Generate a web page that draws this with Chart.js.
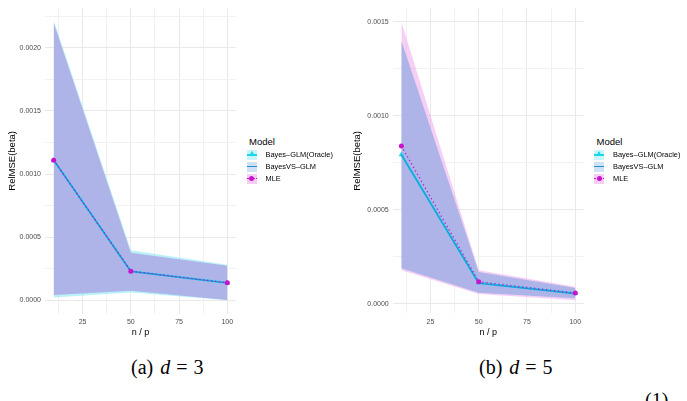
<!DOCTYPE html>
<html>
<head>
<meta charset="utf-8">
<script src="https://cdn.jsdelivr.net/npm/chart.js@4.4.0/dist/chart.umd.min.js"></script>
<style>
    body { margin: 0; width: 687px; height: 401px; background: #fff; position: relative; overflow: hidden; font-family: "Liberation Sans", Arial, sans-serif; }
    .panel { position: absolute; top: 0; height: 345px; }
    .leyenda { position: absolute; color: #000; }
    .leyenda .titulo { position: absolute; font-size: 9.5px; line-height: 11px; white-space: nowrap; }
    .leyenda .fila { position: absolute; height: 11.7px; width: 120px; }
    .leyenda .clave { position: absolute; top: 1px; width: 10px; height: 10px; }
    .leyenda .texto { position: absolute; font-size: 7.4px; line-height: 11.7px; white-space: nowrap; }
    .caption { position: absolute; font-family: "Liberation Serif", "DejaVu Serif", serif; font-size: 20px; line-height: 22px; white-space: nowrap; color: #000; }
    .caption i { margin-left: 7px; margin-right: 6px; }
    .caption .igual { margin-right: 6px; }
</style>
</head>
<body>
<div class="panel" style="left:0;width:240px"><canvas id="graficoD3" width="240" height="345"></canvas></div>
<div class="panel" style="left:345px;width:243px"><canvas id="graficoD5" width="243" height="345"></canvas></div>
<div class="leyenda" id="leyendaD3"></div>
<div class="leyenda" id="leyendaD5"></div>
<div class="caption" style="left:131px;top:356px">(a)<i>d</i><span class="igual">=</span>3</div>
<div class="caption" style="left:479px;top:356px">(b)<i>d</i><span class="igual">=</span>5</div>
<div class="caption" style="left:645px;top:389px">(1)</div>
<script>
// n / p
const nSobreP = [10, 50, 100];
const modelos = ["Bayes–GLM(Oracle)", "BayesVS–GLM", "MLE"];

// d = 3
const oracleD3 = [0.00111, 0.000229, 0.000137];
const bayesVsD3 = [0.00111, 0.000228, 0.000136];
const mleD3 = [0.00111, 0.000230, 0.000138];
const oracleAltoD3 = [0.00222, 0.000395, 0.000280];
const oracleBajoD3 = [0.00002, 0.000060, 0.000000];
const bayesVsAltoD3 = [0.00220, 0.000375, 0.000272];
const bayesVsBajoD3 = [0.00004, 0.000074, 0.000002];
const mleAltoD3 = [0.00219, 0.000370, 0.000270];
const mleBajoD3 = [0.00004, 0.000076, 0.000004];

// d = 5
const oracleD5 = [0.000794, 0.000112, 0.000056];
const bayesVsD5 = [0.000794, 0.000110, 0.000055];
const mleD5 = [0.000840, 0.000118, 0.000058];
const oracleAltoD5 = [0.00139, 0.000168, 0.000084];
const oracleBajoD5 = [0.000192, 0.000061, 0.000031];
const bayesVsAltoD5 = [0.00140, 0.000170, 0.000085];
const bayesVsBajoD5 = [0.000190, 0.000060, 0.000030];
const mleAltoD5 = [0.00150, 0.000180, 0.000092];
const mleBajoD5 = [0.000180, 0.000053, 0.000020];

const xTicks = [12.5, 25, 37.5, 50, 62.5, 75, 87.5, 100];
const xTickLabels = ["", "25", "", "50", "", "75", "", "100"];
const yTicksD3 = [0, 0.00025, 0.0005, 0.00075, 0.001, 0.00125, 0.0015, 0.00175, 0.002, 0.00225];
const yTickLabelsD3 = ["0.0000", "", "0.0005", "", "0.0010", "", "0.0015", "", "0.0020", ""];
const yTicksD5 = [0, 0.00025, 0.0005, 0.00075, 0.001, 0.00125, 0.0015];
const yTickLabelsD5 = ["0.0000", "", "0.0005", "", "0.0010", "", "0.0015"];

const colorOracle = "#1ed6ea";
const colorBayesVs = "#238fd6";
const colorMle = "#cc11cc";

function puntos(valores) {
    return valores.map((v, i) => {
        return { x: nSobreP[i], y: v };
    });
}

function banda(alto, bajo, color, indiceBajo) {
    const comun = { borderColor: "transparent", borderWidth: 0, pointRadius: 0, showLine: true };
    return [
        Object.assign({ data: puntos(alto), backgroundColor: color, fill: indiceBajo }, comun),
        Object.assign({ data: puntos(bajo), backgroundColor: color, fill: false }, comun)
    ];
}

function crearGrafico(id, s, eje) {
    const datasets = [
        { data: puntos(s.mle), borderColor: colorMle, borderWidth: 1.4, borderDash: [1.2, 2.8], pointStyle: "circle", pointRadius: 2.5, pointBackgroundColor: colorMle, pointBorderWidth: 0, fill: false },
        { data: puntos(s.bayesVs), borderColor: colorBayesVs, borderWidth: 1.1, pointRadius: 0, fill: false },
        { data: puntos(s.oracle), borderColor: colorOracle, borderWidth: 2.2, pointStyle: "triangle", pointRadius: 3.2, pointBackgroundColor: colorOracle, pointBorderWidth: 0, fill: false }
    ]
        .concat(banda(s.bayesVsAlto, s.bayesVsBajo, "rgba(174,176,231,0.93)", 4))
        .concat(banda(s.oracleAlto, s.oracleBajo, "rgba(120,230,245,0.5)", 6))
        .concat(banda(s.mleAlto, s.mleBajo, "rgba(238,160,235,0.5)", 8));

    const config = {
        type: "line",
        data: { datasets },
        options: {
            responsive: false,
            animation: false,
            layout: { padding: { top: eje.arriba, right: 4, left: 0, bottom: 0 } },
            plugins: {
                legend: { display: false },
                tooltip: { enabled: false },
                filler: { drawTime: "beforeDatasetsDraw", propagate: false }
            },
            scales: {
                x: {
                    type: "linear",
                    min: 5.5,
                    max: 104.5,
                    afterFit: (scale) => { scale.height = eje.altoX; },
                    afterBuildTicks: (scale) => { scale.ticks = xTicks.map((v) => ({ value: v })); },
                    ticks: {
                        autoSkip: false, maxRotation: 0, padding: 4, color: "#4d4d4d",
                        font: { family: "Liberation Sans", size: 7 },
                        callback: (v, i) => xTickLabels[i]
                    },
                    grid: {
                        drawTicks: false,
                        color: (ctx) => (xTickLabels[ctx.index] ? "#e9e9e9" : "#f1f1f1")
                    },
                    border: { display: false },
                    title: { display: true, text: "n / p", color: "#000", font: { family: "Liberation Sans", size: 9 }, padding: { top: 0, bottom: 6.6 } }
                },
                y: {
                    type: "linear",
                    min: eje.min,
                    max: eje.max,
                    afterFit: (scale) => { scale.width = eje.anchoY; },
                    afterBuildTicks: (scale) => { scale.ticks = eje.ticks.map((v) => ({ value: v })); },
                    ticks: {
                        autoSkip: false, padding: 4, color: "#4d4d4d",
                        font: { family: "Liberation Sans", size: 7 },
                        callback: (v, i) => eje.etiquetas[i]
                    },
                    grid: {
                        drawTicks: false,
                        color: (ctx) => (eje.etiquetas[ctx.index] ? "#e9e9e9" : "#f1f1f1")
                    },
                    border: { display: false },
                    title: { display: true, text: "RelMSE(beta)", color: "#000", font: { family: "Liberation Sans", size: 9.5 }, padding: { top: 7, bottom: 0 } }
                }
            }
        }
    };
    return new Chart(document.getElementById(id), config);
}

function crearLeyenda(id, izquierda) {
    const caja = document.getElementById(id);
    caja.style.left = izquierda + "px";
    caja.style.top = "136px";
    let html = '<div class="titulo" style="left:2.5px;top:0">Model</div>';
    const fondos = ["#c9f4f9", "#cfe2f5", "#f6cdf3"];
    const claves = [
        `<div style="position:absolute;left:0;top:4px;width:10px;height:2.2px;background:${colorOracle}"></div>` +
        `<div style="position:absolute;left:2px;top:1px;width:0;height:0;border-left:3px solid transparent;border-right:3px solid transparent;border-bottom:5px solid ${colorOracle}"></div>`,
        `<div style="position:absolute;left:0;top:4.5px;width:10px;height:1.1px;background:${colorBayesVs}"></div>`,
        `<div style="position:absolute;left:0;top:4.4px;width:10px;height:0;border-top:1.4px dotted ${colorMle}"></div>` +
        `<div style="position:absolute;left:2.5px;top:2.5px;width:5px;height:5px;border-radius:50%;background:${colorMle}"></div>`
    ];
    modelos.forEach((m, i) => {
        const arriba = 13.15 + i * 11.7;
        html += `<div class="fila" style="left:0;top:${arriba}px">` +
            `<div class="clave" style="left:0;background:${fondos[i]}">${claves[i]}</div>` +
            `<div class="texto" style="left:19px;top:0">${m}</div></div>`;
    });
    caja.innerHTML = html;
}

function cargaInicial() {
    crearGrafico("graficoD3", {
        oracle: oracleD3, bayesVs: bayesVsD3, mle: mleD3,
        oracleAlto: oracleAltoD3, oracleBajo: oracleBajoD3,
        bayesVsAlto: bayesVsAltoD3, bayesVsBajo: bayesVsBajoD3,
        mleAlto: mleAltoD3, mleBajo: mleBajoD3
    }, { min: -0.000106, max: 0.002315, ticks: yTicksD3, etiquetas: yTickLabelsD3, anchoY: 45, altoX: 31.5, arriba: 6 });
    crearGrafico("graficoD5", {
        oracle: oracleD5, bayesVs: bayesVsD5, mle: mleD5,
        oracleAlto: oracleAltoD5, oracleBajo: oracleBajoD5,
        bayesVsAlto: bayesVsAltoD5, bayesVsBajo: bayesVsBajoD5,
        mleAlto: mleAltoD5, mleBajo: mleBajoD5
    }, { min: -0.00005, max: 0.001573, ticks: yTicksD5, etiquetas: yTickLabelsD5, anchoY: 47.7, altoX: 31.6, arriba: 7 });
    crearLeyenda("leyendaD3", 246.5);
    crearLeyenda("leyendaD5", 594);
}
cargaInicial();
</script>
</body>
</html>
